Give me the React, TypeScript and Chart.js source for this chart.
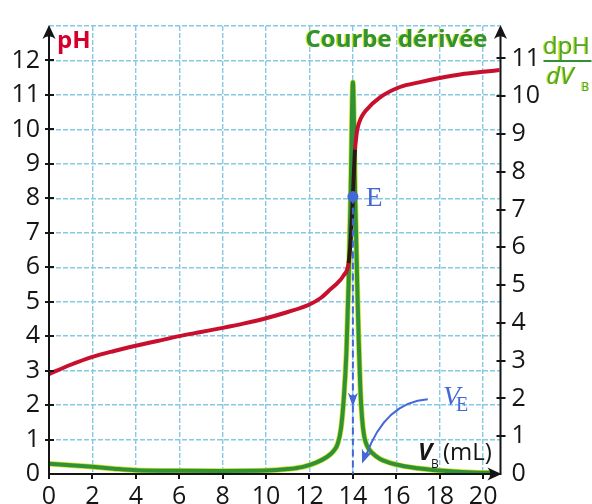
import React, { useEffect, useRef } from "react";
import { Chart, registerables } from "chart.js";

Chart.register(...registerables);

// ---- data ----
const volumeTicks = [0, 2, 4, 6, 8, 10, 12, 14, 16, 18, 20];
const phTicks = [0, 1, 2, 3, 4, 5, 6, 7, 8, 9, 10, 11, 12];
const derivTicks = [0, 1, 2, 3, 4, 5, 6, 7, 8, 9, 10, 11];

const phVolumes = [0, 1, 2, 3, 4, 5, 6, 7, 8, 9, 10, 11, 12, 12.5, 13, 13.25, 13.56, 13.8, 13.9, 13.96, 14, 14.05, 14.1, 14.15, 14.2, 14.35, 14.6, 15.25, 16.17, 17.1, 18, 19, 20, 20.75];
const phValues = [2.9, 3.17, 3.4, 3.57, 3.72, 3.86, 4.0, 4.12, 4.24, 4.37, 4.52, 4.7, 4.92, 5.1, 5.38, 5.52, 5.75, 6.12, 6.8, 7.5, 8.05, 8.8, 9.42, 9.75, 9.99, 10.3, 10.55, 10.93, 11.23, 11.37, 11.49, 11.6, 11.67, 11.72];

const derivVolumes = [0, 1, 2, 3, 4, 6, 8, 10, 11, 11.7, 12.3, 12.8, 13.1, 13.3, 13.45, 13.58, 13.7, 13.8, 13.9, 14, 14.1, 14.2, 14.27, 14.34, 14.42, 14.52, 14.65, 14.9, 15.25, 16, 17, 18, 19, 20, 20.4];
const derivValues = [0.27, 0.23, 0.19, 0.14, 0.1, 0.085, 0.08, 0.09, 0.13, 0.19, 0.3, 0.45, 0.6, 0.8, 1.2, 2.0, 3.2, 5.0, 7.5, 10.37, 7.5, 5.0, 3.5, 2.3, 1.5, 1.0, 0.75, 0.55, 0.4, 0.25, 0.15, 0.09, 0.05, 0.03, 0.03];

const eqVolume = 14;
const eqPH = 8.05;

// axis extents
const X_MAX = 20.8;
const PH_MAX = 13;
const DERIV_MAX = 11.86;

const RED = "#c8102e";
const GREEN = "#2f9138";
const LIME = "#cfe31c";
const BLUE = "#4468d8";
const GRID = "#86c9e2";
const AXIS = "#151515";
const SANS = '"Open Sans", "Noto Sans", sans-serif';
const SERIF = '"Liberation Serif", "DejaVu Serif", serif';

function arrowHead(ctx: CanvasRenderingContext2D, tipX: number, tipY: number, dx: number, dy: number, len: number, half: number) {
  const n = Math.hypot(dx, dy);
  const ux = dx / n, uy = dy / n;
  const px = -uy, py = ux;
  const bx = tipX - ux * len, by = tipY - uy * len;
  ctx.beginPath();
  ctx.moveTo(tipX, tipY);
  ctx.lineTo(bx + px * half, by + py * half);
  ctx.quadraticCurveTo(tipX - ux * len * 0.6, tipY - uy * len * 0.6, bx - px * half, by - py * half);
  ctx.closePath();
  ctx.fill();
}

function ghostText(ctx: CanvasRenderingContext2D, text: string, x: number, y: number, fill: string) {
  ctx.fillStyle = LIME;
  ctx.fillText(text, x - 1.3, y);
  ctx.fillStyle = fill;
  ctx.fillText(text, x, y);
}

const overlayPlugin = {
  id: "overlay",
  afterDatasetsDraw(chart: any) {
    const { ctx, chartArea: a, scales } = chart;
    const xs = scales.x, yL = scales.y, yR = scales.y2;
    ctx.save();

    // ---- axes ----
    ctx.strokeStyle = AXIS;
    ctx.fillStyle = AXIS;
    ctx.lineWidth = 2;
    ctx.setLineDash([]);
    ctx.beginPath();
    ctx.moveTo(a.left, a.bottom + 1);
    ctx.lineTo(a.left, a.top + 8);
    ctx.moveTo(a.right, a.bottom + 1);
    ctx.lineTo(a.right, a.top + 8);
    ctx.moveTo(a.left, a.bottom);
    ctx.lineTo(a.right - 8, a.bottom);
    ctx.stroke();
    arrowHead(ctx, a.left, a.top - 1, 0, -1, 14, 6.5);
    arrowHead(ctx, a.right, a.top - 1, 0, -1, 14, 6.5);
    arrowHead(ctx, a.right + 1, a.bottom, 1, 0, 14, 6.5);
    ctx.beginPath();
    phTicks.filter((v) => v > 0).forEach((v) => {
      const y = Math.round(yL.getPixelForValue(v));
      ctx.moveTo(a.left - 4, y);
      ctx.lineTo(a.left + 5, y);
    });
    derivTicks.filter((v) => v > 0).forEach((v) => {
      const y = Math.round(yR.getPixelForValue(v));
      ctx.moveTo(a.right - 4, y);
      ctx.lineTo(a.right + 5, y);
    });
    volumeTicks.forEach((v) => {
      const x = Math.round(xs.getPixelForValue(v));
      ctx.moveTo(x, a.bottom);
      ctx.lineTo(x, a.bottom + 5);
    });
    ctx.stroke();

    // ---- equivalence annotation ----
    const ex = xs.getPixelForValue(eqVolume);
    const ey = yL.getPixelForValue(eqPH);
    ctx.strokeStyle = BLUE;
    ctx.fillStyle = BLUE;
    ctx.lineWidth = 2;
    ctx.setLineDash([7, 4]);
    ctx.beginPath();
    ctx.moveTo(ex, ey);
    ctx.lineTo(ex, yL.getPixelForValue(0));
    ctx.stroke();
    ctx.setLineDash([]);
    arrowHead(ctx, ex, yR.getPixelForValue(1.78), 0, 1, 14, 5);
    ctx.beginPath();
    ctx.arc(ex, ey, 5.5, 0, Math.PI * 2);
    ctx.fill();
    ctx.font = `27px ${SERIF}`;
    ctx.textBaseline = "middle";
    ctx.textAlign = "left";
    ctx.fillText("E", ex + 13, ey + 2);

    // V_E label and curved arrow
    const vx = xs.getPixelForValue(18.15);
    const vy = yR.getPixelForValue(1.83);
    ctx.textBaseline = "alphabetic";
    ctx.font = `italic 28px ${SERIF}`;
    ctx.fillText("V", vx, vy);
    const vw = ctx.measureText("V").width;
    ctx.font = `20px ${SERIF}`;
    ctx.fillText("E", vx + vw - 4, vy + 6);

    const sx = xs.getPixelForValue(17.45), sy = yR.getPixelForValue(1.98);
    const cx = xs.getPixelForValue(15.5), cy = yR.getPixelForValue(1.9);
    const tx = xs.getPixelForValue(14.42), ty = yR.getPixelForValue(0.28);
    ctx.lineWidth = 2;
    ctx.beginPath();
    ctx.moveTo(sx, sy);
    ctx.quadraticCurveTo(cx, cy, tx + 4, ty - 8);
    ctx.stroke();
    arrowHead(ctx, tx, ty, tx - cx, ty - cy, 14, 5.5);

    // ---- titles ----
    ctx.textAlign = "left";
    ctx.textBaseline = "alphabetic";
    ctx.font = `bold 24px ${SANS}`;
    ctx.fillStyle = "#d4002b";
    ctx.fillText("pH", a.left + 8, a.top + 22);

    ctx.textAlign = "right";
    ctx.font = `bold 24px ${SANS}`;
    ghostText(ctx, "Courbe dérivée", a.right - 13, a.top + 21, GREEN);

    // dpH / dV_B
    const fx = a.right + 66;
    ctx.textAlign = "center";
    ctx.font = `24px ${SANS}`;
    ghostText(ctx, "dpH", fx, a.top + 28, "#4aa437");
    ctx.fillStyle = GREEN;
    ctx.fillRect(fx - 23, a.top + 34, 48, 2);
    ctx.textAlign = "left";
    ctx.font = `italic 24px ${SANS}`;
    ghostText(ctx, "dV", fx - 20, a.top + 58, "#4aa437");
    ctx.font = `12px ${SANS}`;
    ghostText(ctx, "B", fx + 15, a.top + 65, "#4aa437");

    // V_B (mL)
    const bx = xs.getPixelForValue(17.0);
    const by = yL.getPixelForValue(0.42);
    ctx.fillStyle = AXIS;
    ctx.font = `italic bold 24px ${SANS}`;
    ctx.fillText("V", bx, by);
    ctx.font = `12px ${SANS}`;
    ctx.fillText("B", bx + 13, by + 8);
    ctx.font = `24px ${SANS}`;
    ctx.fillText("(mL)", bx + 25, by);

    ctx.restore();
  },
};

function pts(xs: number[], ys: number[]) {
  return xs.map((x, i) => ({ x, y: ys[i] }));
}

export default function App() {
  const ref = useRef<HTMLCanvasElement>(null);

  useEffect(() => {
    document.body.style.margin = "0";
    const darkZone = (ctx: any) =>
      ctx.p0.parsed.x >= 13.8 && ctx.p1.parsed.x <= 14.1 ? "#2a1814" : undefined;

    const tickFont = { family: SANS, size: 25 };

    const chart = new Chart(ref.current as HTMLCanvasElement, {
      type: "line",
      data: {
        datasets: [
          {
            label: "pH",
            data: pts(phVolumes, phValues),
            yAxisID: "y",
            borderColor: RED,
            borderWidth: 4,
            pointRadius: 0,
            cubicInterpolationMode: "monotone",
            segment: { borderColor: darkZone },
          },
          {
            label: "dpH/dVB",
            data: pts(derivVolumes, derivValues),
            yAxisID: "y2",
            borderColor: GREEN,
            borderWidth: 4,
            pointRadius: 0,
            cubicInterpolationMode: "monotone",
          },
          {
            label: "halo",
            data: pts(derivVolumes, derivValues),
            yAxisID: "y2",
            borderColor: LIME,
            borderWidth: 5.5,
            pointRadius: 0,
            cubicInterpolationMode: "monotone",
          },
        ],
      },
      options: {
        animation: false,
        responsive: false,
        events: [],
        layout: { padding: { top: 14, left: 0, right: 0, bottom: 0 } },
        plugins: { legend: { display: false }, tooltip: { enabled: false } },
        scales: {
          x: {
            type: "linear",
            min: 0,
            max: X_MAX,
            afterFit: (s: any) => {
              s.height = 30;
            },
            afterBuildTicks: (s: any) => {
              s.ticks = volumeTicks.map((v) => ({ value: v }));
            },
            ticks: {
              font: tickFont,
              color: AXIS,
              padding: 8,
              maxRotation: 0,
              autoSkip: false,
            },
            grid: { color: GRID, lineWidth: 1.4, drawTicks: false },
            border: { display: false, dash: [5, 2] },
          },
          y: {
            type: "linear",
            position: "left",
            min: 0,
            max: PH_MAX,
            afterFit: (s: any) => {
              s.width = 49;
            },
            afterBuildTicks: (s: any) => {
              s.ticks = [...phTicks, PH_MAX].map((v) => ({ value: v }));
            },
            ticks: {
              font: tickFont,
              color: AXIS,
              padding: 9,
              autoSkip: false,
              callback: (v: any) => (phTicks.includes(v) ? String(v) : ""),
            },
            grid: { color: GRID, lineWidth: 1.4, drawTicks: false },
            border: { display: false, dash: [5, 2] },
          },
          y2: {
            type: "linear",
            position: "right",
            min: 0,
            max: DERIV_MAX,
            afterFit: (s: any) => {
              s.width = 91.5;
            },
            afterBuildTicks: (s: any) => {
              s.ticks = derivTicks.map((v) => ({ value: v }));
            },
            ticks: {
              font: tickFont,
              color: AXIS,
              padding: 11,
              autoSkip: false,
            },
            grid: { display: false, drawTicks: false },
            border: { display: false },
          },
        },
      },
      plugins: [overlayPlugin],
    } as any);
    return () => chart.destroy();
  }, []);

  return (
    <div style={{ width: 592, height: 504, background: "#fff" }}>
      <canvas ref={ref} width={592} height={504} style={{ display: "block", width: 592, height: 504 }} />
    </div>
  );
}
